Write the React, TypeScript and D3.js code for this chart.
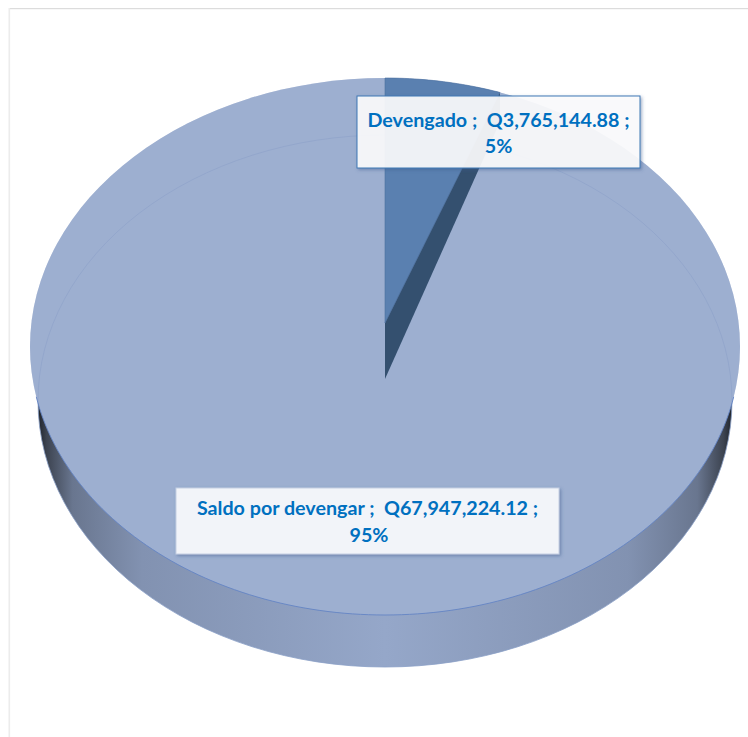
import React from "react";
import * as d3 from "d3";

const categories = ["Devengado", "Saldo por devengar"];
const seriesValues = [3765144.88, 67947224.12];
const amountLabels = ["Q3,765,144.88", "Q67,947,224.12"];
const percentLabels = ["5%", "95%"];

const W = 748;
const H = 737;
const TOP = { cx: 385, cy: 346.5, rx: 355, ry: 268.5 };
const BOTTOM = { cx: 385, cy: 401, rx: 347, ry: 266 };
const LIGHT_APEX_Y = 323;
const DARK_APEX_Y = 379;

const pie = d3.pie<number>().sort(null);
const arcs = pie(seriesValues);

const ePoint = (e: typeof TOP, a: number): [number, number] => [
  e.cx + e.rx * Math.sin(a),
  e.cy - e.ry * Math.cos(a),
];
const line = d3.line();

const wedgeEnd = arcs[0].endAngle;
const wedgeAngles = d3.range(0, 25).map((i) => (wedgeEnd * i) / 24);
const wedgeTop = wedgeAngles.map((a) => ePoint(TOP, a));
const lightWedge = line([[TOP.cx, LIGHT_APEX_Y], ...wedgeTop])! + "Z";
const endPt = ePoint(TOP, wedgeEnd);
const slope = 0.447;
const darkYAt = (x: number) => DARK_APEX_Y - (x - TOP.cx) / slope;
const darkWedge =
  line([
    [TOP.cx, LIGHT_APEX_Y],
    [TOP.cx, DARK_APEX_Y],
    [endPt[0], darkYAt(endPt[0])],
    endPt,
  ])! + "Z";

// lower rim of the top face (only this part carries the blue outline)
const rimAngles = d3.range(0, 121).map((i) => Math.PI * 0.56 + (Math.PI * 0.88 * i) / 120);
const lowerRim = line(rimAngles.map((a) => ePoint(TOP, a)))!;

const labels = [
  { i: 0, x: 357, y: 96, w: 283, h: 72, fill: "#ffffff", op: 0.88, stroke: "#3f78b5", line1: 31, line2: 57, shift: 0 },
  { i: 1, x: 176, y: 488, w: 383, h: 66, fill: "#f2f4f9", op: 1, stroke: "#c4cfe3", line1: 27, line2: 53.5, shift: 1.5 },
];

export default function App() {
  return (
    <svg
      width={W}
      height={H}
      style={{ position: "fixed", left: 0, top: 0, background: "#fff" }}
    >
      <defs>
        <linearGradient id="side" x1="0" x2="1" y1="0" y2="0">
          <stop offset="0" stopColor="#1f242c" />
          <stop offset="0.012" stopColor="#3c4350" />
          <stop offset="0.05" stopColor="#69768f" />
          <stop offset="0.15" stopColor="#8292b1" />
          <stop offset="0.5" stopColor="#95a7c9" />
          <stop offset="0.85" stopColor="#8292b1" />
          <stop offset="0.95" stopColor="#69768f" />
          <stop offset="0.988" stopColor="#3c4350" />
          <stop offset="1" stopColor="#1f242c" />
        </linearGradient>
        <filter id="shadow" x="-5%" y="-10%" width="110%" height="125%">
          <feDropShadow dx="1.5" dy="1.5" stdDeviation="1.5" floodColor="#3a5a8c" floodOpacity="0.5" />
        </filter>
      </defs>
      <rect x={9} y={8} width={W} height={1.2} fill="#dcdcdc" />
      <rect x={8.5} y={8} width={1.6} height={H} fill="#ececec" />

      <ellipse cx={BOTTOM.cx} cy={BOTTOM.cy} rx={BOTTOM.rx} ry={BOTTOM.ry} fill="url(#side)" />
      <ellipse cx={TOP.cx} cy={TOP.cy} rx={TOP.rx} ry={TOP.ry} fill="#9dafd0" />
      <ellipse cx={BOTTOM.cx} cy={BOTTOM.cy} rx={BOTTOM.rx} ry={BOTTOM.ry} fill="none" stroke="#8a9fc7" strokeWidth={0.8} />
      <ellipse cx={TOP.cx} cy={TOP.cy} rx={TOP.rx} ry={TOP.ry} fill="#9dafd0" fillOpacity={0.35} />
      <path d={lowerRim} fill="none" stroke="#6485c4" strokeWidth={0.9} />

      <path d={lightWedge} fill="#5a80b0" />
      <path d={darkWedge} fill="#34506f" />
      <path d={lightWedge} fill="none" stroke="#4a6f9f" strokeWidth={0.6} />

      {labels.map((l) => (
        <g key={l.i}>
          <rect x={l.x} y={l.y} width={l.w} height={l.h} fill={l.fill} fillOpacity={l.op} stroke={l.stroke} strokeWidth={1} filter="url(#shadow)" />
          <text
            textAnchor="middle"
            fontFamily="Lato, 'Open Sans', sans-serif"
            fontWeight={700}
            fontSize={19.7}
            fill="#0070c0"
            style={{ whiteSpace: "pre" }}
          >
            <tspan x={l.x + l.w / 2} y={l.y + l.line1}>{`${categories[l.i]} ;  ${amountLabels[l.i]} ;`}</tspan>
            <tspan x={l.x + l.w / 2 + l.shift} y={l.y + l.line2}>{percentLabels[l.i]}</tspan>
          </text>
        </g>
      ))}
    </svg>
  );
}
